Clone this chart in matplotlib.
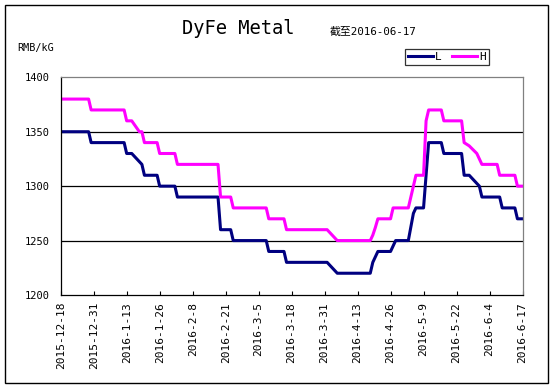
import matplotlib
matplotlib.use('Agg')
import matplotlib.pyplot as plt
import matplotlib.patches as mpatches
import pandas as pd

# 低价 L（变动点）
L_DATES = ['2015-12-18', '2015-12-29', '2015-12-30', '2016-01-12', '2016-01-13',
           '2016-01-15', '2016-01-17', '2016-01-19', '2016-01-20', '2016-01-25',
           '2016-01-26', '2016-02-01', '2016-02-02', '2016-02-18', '2016-02-19',
           '2016-02-23', '2016-02-24', '2016-03-08', '2016-03-09', '2016-03-15',
           '2016-03-16', '2016-04-01', '2016-04-05', '2016-04-18', '2016-04-19',
           '2016-04-21', '2016-04-26', '2016-04-28', '2016-05-03', '2016-05-05',
           '2016-05-06', '2016-05-09', '2016-05-10', '2016-05-11', '2016-05-16',
           '2016-05-17', '2016-05-24', '2016-05-25', '2016-05-27', '2016-05-31',
           '2016-06-01', '2016-06-08', '2016-06-09', '2016-06-14', '2016-06-15',
           '2016-06-17']
L_VALUES = [1350, 1350, 1340, 1340, 1330,
            1330, 1325, 1320, 1310, 1310,
            1300, 1300, 1290, 1290, 1260,
            1260, 1250, 1250, 1240, 1240,
            1230, 1230, 1220, 1220, 1230,
            1240, 1240, 1250, 1250, 1275,
            1280, 1280, 1310, 1340, 1340,
            1330, 1330, 1310, 1310, 1300,
            1290, 1290, 1280, 1280, 1270,
            1270]

# 高价 H（变动点）
H_DATES = ['2015-12-18', '2015-12-29', '2015-12-30', '2016-01-12', '2016-01-13',
           '2016-01-15', '2016-01-18', '2016-01-19', '2016-01-20', '2016-01-25',
           '2016-01-26', '2016-02-01', '2016-02-02', '2016-02-18', '2016-02-19',
           '2016-02-23', '2016-02-24', '2016-03-08', '2016-03-09', '2016-03-15',
           '2016-03-16', '2016-04-01', '2016-04-05', '2016-04-18', '2016-04-19',
           '2016-04-20', '2016-04-21', '2016-04-26', '2016-04-27', '2016-05-03',
           '2016-05-06', '2016-05-09', '2016-05-10', '2016-05-11', '2016-05-16',
           '2016-05-17', '2016-05-24', '2016-05-25', '2016-05-27', '2016-05-30',
           '2016-06-01', '2016-06-07', '2016-06-08', '2016-06-14', '2016-06-15',
           '2016-06-17']
H_VALUES = [1380, 1380, 1370, 1370, 1360,
            1360, 1350, 1350, 1340, 1340,
            1330, 1330, 1320, 1320, 1290,
            1290, 1280, 1280, 1270, 1270,
            1260, 1260, 1250, 1250, 1255,
            1262, 1270, 1270, 1280, 1280,
            1310, 1310, 1360, 1370, 1370,
            1360, 1360, 1340, 1337, 1330,
            1320, 1320, 1310, 1310, 1300,
            1300]

START, END = '2015-12-18', '2016-06-17'
TICK_STEP_DAYS = 13
Y_TICKS = [1200, 1250, 1300, 1350, 1400]

MONO = ['DejaVu Sans Mono', 'Noto Sans CJK SC']
W, H = 554, 389

fig = plt.figure(figsize=(W / 100, H / 100), dpi=100)
ax = fig.add_axes([60.7 / W, 1 - 295 / H, (522.5 - 60.7) / W, (295 - 77.3) / H])

l_x = pd.to_datetime(L_DATES)
h_x = pd.to_datetime(H_DATES)
ax.plot(l_x, L_VALUES, color='#000080', linewidth=2.2, label='L',
        solid_joinstyle='round')
ax.plot(h_x, H_VALUES, color='#ff00ff', linewidth=2.2, label='H',
        solid_joinstyle='round')

start, end = pd.Timestamp(START), pd.Timestamp(END)
ax.set_xlim(start, end)
ax.set_ylim(Y_TICKS[0], Y_TICKS[-1])

ticks = pd.date_range(start, end, freq=f'{TICK_STEP_DAYS}D')
ax.set_xticks(ticks)
ax.set_xticklabels([f'{t.year}-{t.month}-{t.day}' for t in ticks],
                   rotation=90, family=MONO, fontsize=8)
ax.set_yticks(Y_TICKS)
ax.set_yticklabels([str(v) for v in Y_TICKS], family=MONO, fontsize=7.5)
ax.tick_params(axis='x', direction='in', length=3, width=0.8, pad=5)
ax.tick_params(axis='y', length=0, pad=8)

for v in Y_TICKS[1:-1]:
    ax.axhline(v, color='black', linewidth=0.9, zorder=0)

for side in ('top', 'right'):
    ax.spines[side].set_color('#808080')
for side in ('left', 'bottom'):
    ax.spines[side].set_color('black')
for sp in ax.spines.values():
    sp.set_linewidth(0.9)

# ── 文字 ──
fig.text(238 / W, 1 - 28 / H, 'DyFe Metal', family=MONO, fontsize=13.5,
         ha='center', va='center')
fig.text(330 / W, 1 - 32 / H, '截至2016-06-17', family=MONO, fontsize=7.8,
         ha='left', va='center')
fig.text(17 / W, 1 - 48 / H, 'RMB/kG', family=MONO, fontsize=7.3,
         ha='left', va='center')

leg = fig.legend(loc='upper left', bbox_to_anchor=(405 / W, 1 - 49 / H),
                 ncol=2, prop={'family': MONO, 'size': 8}, frameon=True,
                 fancybox=False, edgecolor='black', handlelength=2.3,
                 handletextpad=0.15, columnspacing=0.9, borderpad=0.25,
                 borderaxespad=0)
leg.get_frame().set_linewidth(0.9)

# 外框
fig.patches.append(mpatches.Rectangle((5 / W, 1 - 383 / H), (548 - 5) / W,
                                      (383 - 4.5) / H, transform=fig.transFigure,
                                      fill=False, edgecolor='black', linewidth=1))

fig.savefig('out.png', dpi=100)
